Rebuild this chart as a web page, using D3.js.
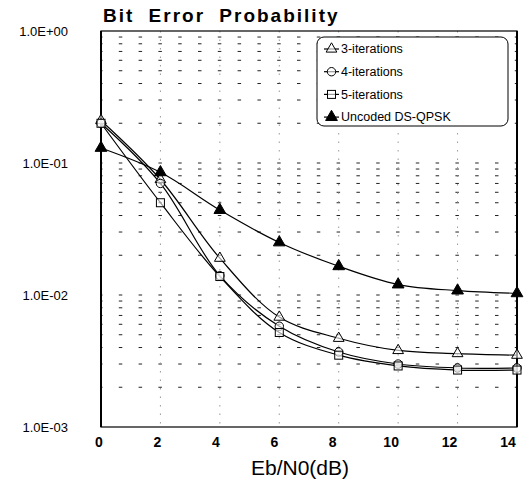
<!DOCTYPE html>
<html><head><meta charset="utf-8">
<script src="https://cdn.jsdelivr.net/npm/d3@7/dist/d3.min.js"></script>
<style>body{margin:0;background:#fff}svg{display:block}text{font-family:"Liberation Sans",Arial,sans-serif}</style>
</head><body>
<svg id="c" width="532" height="489"></svg>
<script>
const ebn0 = [0, 2, 4, 6, 8, 10, 12, 14];
const iter3 = [0.21, 0.075, 0.019, 0.0068, 0.0047, 0.0038, 0.0036, 0.0035];
const iter4 = [0.20, 0.070, 0.0140, 0.0058, 0.0037, 0.0030, 0.0028, 0.0028];
const iter5 = [0.20, 0.050, 0.0138, 0.0052, 0.0035, 0.0029, 0.0027, 0.0027];
const uncoded = [0.13, 0.085, 0.044, 0.025, 0.0165, 0.0120, 0.0108, 0.0103];
const seriesNames = ["3-iterations", "4-iterations", "5-iterations", "Uncoded DS-QPSK"];
const markers = ["triangleOpen", "circle", "square", "triangleFilled"];
const xTicks = [0, 2, 4, 6, 8, 10, 12, 14];
const yTicks = [1e-3, 1e-2, 1e-1, 1];
const yTickLabels = ["1.0E-03", "1.0E-02", "1.0E-01", "1.0E+00"];
const titleText = "Bit Error Probability";
const xTitle = "Eb/N0(dB)";

const series = [iter3, iter4, iter5, uncoded];
const svg = d3.select("#c");
const L = 101, R = 517, T = 31, B = 427;
const x = d3.scaleLinear().domain([0, 14]).range([L, R]);
const y = d3.scaleLog().domain([1e-3, 1]).range([B, T]);

// minor gridlines
const minor = [];
[1e-3, 1e-2, 1e-1].forEach(d => { for (let k = 1; k <= 9; k++) { const v = d * k; if (v > 1e-3) minor.push(v); } });
svg.append("g").selectAll("line").data(minor).join("line")
  .attr("x1", L).attr("x2", R).attr("y1", d => y(d)).attr("y2", d => y(d))
  .attr("stroke", "#222").attr("stroke-width", 1)
  .attr("stroke-dasharray", "3.5 16.3").attr("stroke-dashoffset", 2);
svg.append("g").selectAll("line").data(xTicks.slice(1, -1)).join("line")
  .attr("x1", d => x(d)).attr("x2", d => x(d)).attr("y1", T).attr("y2", B)
  .attr("stroke", "#999").attr("stroke-width", 1).attr("stroke-dasharray", "1.5 7");

// border
svg.append("rect").attr("x", L).attr("y", T).attr("width", R - L).attr("height", B - T)
  .attr("fill", "none").attr("stroke", "#000").attr("stroke-width", 1.2);
svg.append("g").selectAll("line").data([L, R]).join("line")
  .attr("x1", d => d).attr("x2", d => d).attr("y1", T).attr("y2", B)
  .attr("stroke", "#000").attr("stroke-width", 2);

// lines
const line = d3.line().x((d, i) => x(ebn0[i])).y(d => y(d)).curve(d3.curveCatmullRom.alpha(0.5));
series.forEach(s => {
  svg.append("path").datum(s).attr("d", line).attr("fill", "none")
    .attr("stroke", "#000").attr("stroke-width", 1.2);
});

function drawMarker(g, type, cx, cy) {
  if (type === "circle") {
    g.append("circle").attr("cx", cx).attr("cy", cy).attr("r", 4.2)
      .attr("fill", "#fff").attr("fill-opacity", 0.6).attr("stroke", "#000").attr("stroke-width", 1);
  } else if (type === "square") {
    g.append("rect").attr("x", cx - 4).attr("y", cy - 4).attr("width", 8).attr("height", 8)
      .attr("fill", "#fff").attr("fill-opacity", 0.6).attr("stroke", "#000").attr("stroke-width", 1);
  } else {
    const filled = type === "triangleFilled";
    const sym = d3.symbol().type(d3.symbolTriangle).size(filled ? 60 : 50);
    g.append("path").attr("d", sym()).attr("transform", `translate(${cx},${cy})`)
      .attr("fill", filled ? "#000" : "#fff").attr("fill-opacity", filled ? 1 : 0.6)
      .attr("stroke", "#000").attr("stroke-width", 1);
  }
}
series.forEach((s, si) => {
  const g = svg.append("g");
  s.forEach((v, i) => drawMarker(g, markers[si], x(ebn0[i]), y(v)));
});

// legend
const lg = svg.append("g");
lg.append("rect").attr("x", 317).attr("y", 37).attr("width", 191).attr("height", 89).attr("rx", 7)
  .attr("fill", "#fff").attr("stroke", "#000").attr("stroke-width", 1);
seriesNames.forEach((n, i) => {
  const ly = 49 + i * 22.7;
  lg.append("line").attr("x1", 324).attr("x2", 339).attr("y1", ly).attr("y2", ly)
    .attr("stroke", "#000").attr("stroke-width", 1.2);
  drawMarker(lg, markers[i], 331.5, ly);
  lg.append("text").attr("x", 341).attr("y", ly).attr("dy", "0.35em")
    .attr("font-size", 12.5).attr("fill", "#000").text(n);
});

// axis labels
svg.append("g").selectAll("text").data(yTicks).join("text")
  .attr("x", 68).attr("y", d => y(d)).attr("dy", "0.35em").attr("text-anchor", "end")
  .attr("font-size", 13).attr("fill", "#000").text((d, i) => yTickLabels[i]);
svg.append("g").selectAll("text").data(xTicks).join("text")
  .attr("x", d => x(d) - 2 - d * 0.5).attr("y", 442).attr("dy", "0.35em").attr("text-anchor", "middle")
  .attr("font-size", 14).attr("font-weight", "bold").attr("fill", "#000").text(d => d);

svg.append("text").attr("x", 300).attr("y", 468).attr("dy", "0.35em").attr("text-anchor", "middle")
  .attr("font-size", 21).attr("fill", "#000").text(xTitle);
svg.append("text").attr("x", 103).attr("y", 22).attr("font-size", 19).attr("font-weight", "bold")
  .attr("letter-spacing", 2).attr("word-spacing", 7).attr("fill", "#000").text(titleText);
</script>
</body></html>
